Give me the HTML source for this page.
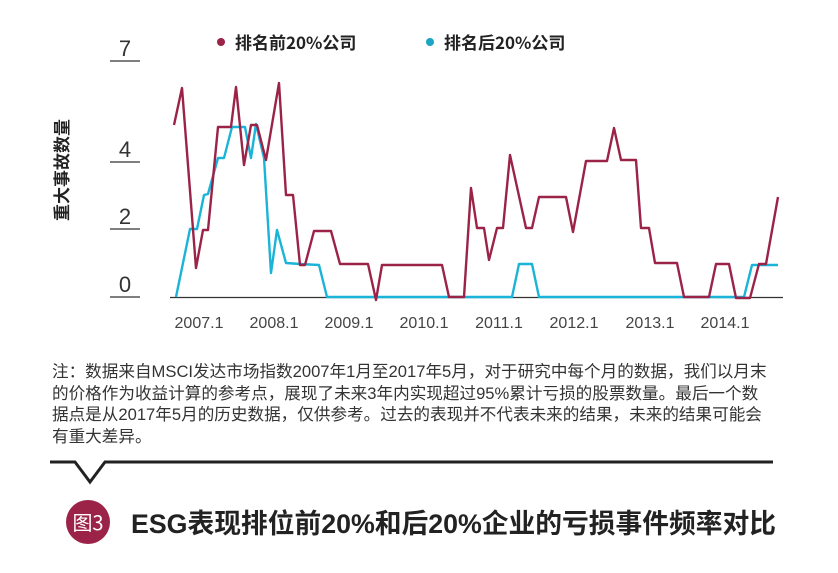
<!DOCTYPE html>
<html><head><meta charset="utf-8"><style>
body{margin:0;width:838px;height:573px;background:#fff;overflow:hidden;font-family:"Liberation Sans","Noto Sans CJK SC",sans-serif;}
.note{position:absolute;left:52px;top:361px;font-size:16.6px;line-height:21.5px;color:#333;white-space:nowrap;}
</style></head><body>
<svg width="838" height="573" style="position:absolute;left:0;top:0">
<g font-family="Liberation Sans, Noto Sans CJK SC, sans-serif" fill="#333">
<text x="125" y="56" font-size="22" text-anchor="middle">7</text>
<text x="125" y="157" font-size="22" text-anchor="middle">4</text>
<text x="125" y="224" font-size="22" text-anchor="middle">2</text>
<text x="125" y="292" font-size="22" text-anchor="middle">0</text>
</g>
<g stroke="#333" stroke-width="1.2">
<line x1="110" y1="61" x2="140" y2="61"/><line x1="110" y1="162" x2="140" y2="162"/>
<line x1="110" y1="229" x2="140" y2="229"/><line x1="110" y1="297" x2="140" y2="297"/>
<line x1="170" y1="297.5" x2="783" y2="297.5"/>
</g>
<text transform="translate(68,170) rotate(-90)" font-size="17" font-weight="bold" text-anchor="middle" fill="#222" font-family="Noto Sans CJK SC, sans-serif">重大事故数量</text>
<g font-size="16" fill="#444" text-anchor="middle" font-family="Liberation Sans, sans-serif">
<text x="199" y="328">2007.1</text><text x="274" y="328">2008.1</text><text x="349" y="328">2009.1</text><text x="424" y="328">2010.1</text><text x="499" y="328">2011.1</text><text x="574" y="328">2012.1</text><text x="650" y="328">2013.1</text><text x="725" y="328">2014.1</text>
</g>
<circle cx="221" cy="42" r="4" fill="#9b2348"/>
<text x="235" y="49" font-size="17" font-weight="bold" fill="#222" font-family="Noto Sans CJK SC, sans-serif">排名前20%公司</text>
<circle cx="430" cy="42" r="4" fill="#1aa5c4"/>
<text x="444" y="49" font-size="17" font-weight="bold" fill="#222" font-family="Noto Sans CJK SC, sans-serif">排名后20%公司</text>
<polyline fill="none" stroke="#1ab4d8" stroke-width="2.4" stroke-linejoin="round" points="176,297 190,229 197,229 204,195 208,194 218,158 224,158 232,127 245,127 251,158 256,124 264,158 271,273 277,230 286,263 300,264 319,265 327,297 512,297 519,264 532,264 539,297 744,297 752,265 778,265"/>
<polyline fill="none" stroke="#9b2348" stroke-width="2.4" stroke-linejoin="round" points="174,125 182,88 196,268 203,230 208,230 218,127 231,127 236,87 244,165 251,125 257,125 266,160 279,83 286,195 293,195 300,265 305,265 314,231 331,231 340,264 368,264 376,300 382,265 442,265 449,297 464,297 471,188 477,228 484,228 489,260 497,228 503,228 510,155 526,228 532,228 539,197 566,197 573,232 586,161 607,161 614,128 621,160 636,160 641,228 649,228 655,263 677,263 684,297 709,297 716,264 729,264 736,298 750,298 759,264 766,264 778,197"/>
<polyline fill="none" stroke="#222" stroke-width="3" points="50,462 75,462 90,482 105,462 773,462"/>
<circle cx="88" cy="522" r="22" fill="#9b2348"/>
<text x="88" y="530" font-size="20" fill="#fff" text-anchor="middle" font-family="Noto Sans CJK SC, sans-serif">图3</text>
<text x="131" y="533" font-size="27" font-weight="bold" fill="#222" textLength="645" lengthAdjust="spacingAndGlyphs" font-family="Liberation Sans, Noto Sans CJK SC, sans-serif">ESG表现排位前20%和后20%企业的亏损事件频率对比</text>
</svg>
<div class="note">注：数据来自MSCI发达市场指数2007年1月至2017年5月，对于研究中每个月的数据，我们以月末<br>的价格作为收益计算的参考点，展现了未来3年内实现超过95%累计亏损的股票数量。最后一个数<br>据点是从2017年5月的历史数据，仅供参考。过去的表现并不代表未来的结果，未来的结果可能会<br>有重大差异。</div>
</body></html>
